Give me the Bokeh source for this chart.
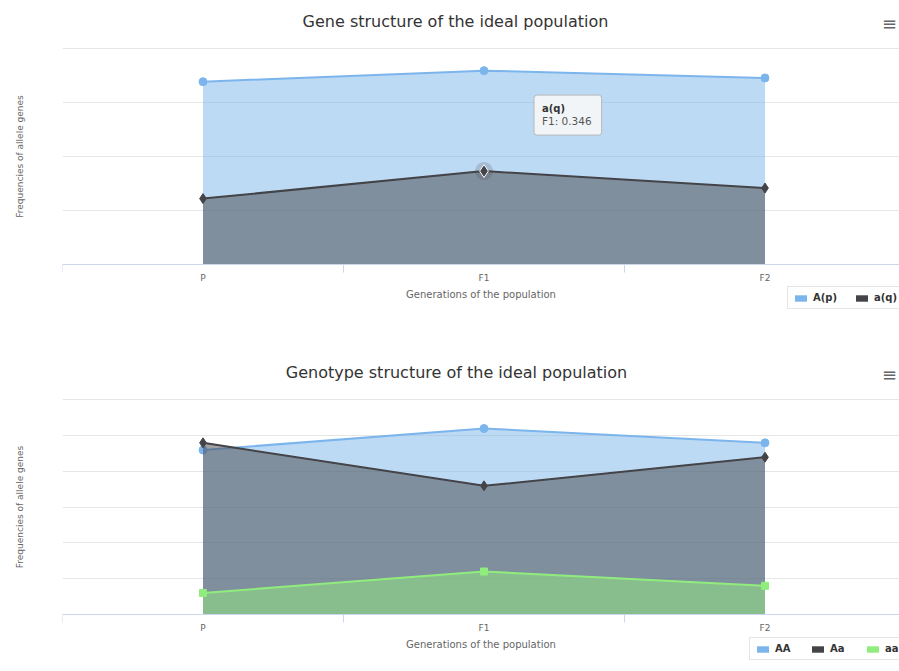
from bokeh.plotting import figure
from bokeh.layouts import column
from bokeh.models import (FixedTicker, CustomJSTickFormatter, Legend, LegendItem,
                          Label, ColumnDataSource, Range1d)
from bokeh.embed import file_html
from bokeh.resources import INLINE

# ---- data ----
generations = ["P", "F1", "F2"]
gen_pos = [0, 1, 2]
A_p = [0.677, 0.718, 0.691]
a_q = [0.244, 0.346, 0.283]
AA = [0.459, 0.519, 0.479]
Aa = [0.479, 0.359, 0.439]
aa = [0.060, 0.120, 0.080]

title1 = "Gene structure of the ideal population"
title2 = "Genotype structure of the ideal population"
x_title = "Generations of the population"
y_title = "Frequencies of allele genes"
gene_ticks = [0, 0.2, 0.4, 0.6, 0.8]
geno_ticks = [0, 0.1, 0.2, 0.3, 0.4, 0.5, 0.6]
legend1 = ["A(p)", "a(q)"]
legend2 = ["AA", "Aa", "aa"]

BLUE = "#7cb5ec"
DARK = "#434348"
GREEN = "#90ed7d"
FONT = "DejaVu Sans"

W = 899
LEFT = 62


def make_fig(height, frame_top, frame_bottom, yticks, top_px, axis_px,
             title, title_x, title_py):
    """All pixel rows are measured from the figure top. The frame runs from
    frame_top to frame_bottom; top_px / axis_px are the rows of the highest
    grid line and of the value 0."""
    span = yticks[-1] - yticks[0]
    ppu = (axis_px - top_px) / span
    y0 = yticks[0] - (frame_bottom - axis_px) / ppu
    y1 = yticks[-1] + (top_px - frame_top) / ppu
    p = figure(width=W, height=height, output_backend="svg", toolbar_location=None,
               x_range=Range1d(-0.5, -0.5 + (W - LEFT) / 281), y_range=Range1d(y0, y1),
               min_border_left=LEFT, min_border_right=0, min_border_top=frame_top,
               min_border_bottom=height - frame_bottom)
    p.title = None
    p.outline_line_color = None
    p.background_fill_color = "white"
    p.border_fill_color = "white"

    xa = p.xaxis[0]
    xa.fixed_location = yticks[0]
    xa.bounds = (-0.5, 2.5)
    xa.ticker = FixedTicker(ticks=gen_pos, minor_ticks=[-0.5, 0.5, 1.5, 2.5])
    xa.major_label_overrides = {i: g for i, g in zip(gen_pos, generations)}
    xa.axis_line_color = "#ccd6eb"
    xa.major_tick_line_color = None
    xa.minor_tick_line_color = "#ccd6eb"
    xa.minor_tick_out = 8
    xa.minor_tick_in = 0
    xa.major_tick_out = 0
    xa.major_tick_in = 0
    xa.major_label_standoff = 0
    xa.major_label_text_font = FONT
    xa.major_label_text_font_size = "9px"
    xa.major_label_text_color = "#666666"
    xa.axis_label = x_title
    xa.axis_label_text_font = FONT
    xa.axis_label_text_font_size = "10px"
    xa.axis_label_text_font_style = "normal"
    xa.axis_label_text_color = "#666666"
    xa.axis_label_standoff = 3

    ya = p.yaxis[0]
    ya.ticker = FixedTicker(ticks=yticks)
    ya.formatter = CustomJSTickFormatter(code="return ''")
    ya.axis_line_color = None
    ya.major_tick_line_color = None
    ya.minor_tick_line_color = None
    ya.major_label_standoff = 0
    ya.axis_label = y_title
    ya.axis_label_text_font = FONT
    ya.axis_label_text_font_size = "9px"
    ya.axis_label_text_font_style = "normal"
    ya.axis_label_text_color = "#666666"
    ya.axis_label_standoff = 32

    p.xgrid.visible = False
    p.ygrid.grid_line_color = "#e6e6e6"
    p.ygrid.grid_line_width = 1

    # chart title and context-menu icon (screen units, from frame bottom-left)
    ty = frame_bottom - title_py
    p.add_layout(Label(x=title_x, y=ty, x_units="screen", y_units="screen",
                       text=title, text_font=FONT, text_font_size="16px",
                       text_color="#333333", text_align="center",
                       text_baseline="middle"))
    p.add_layout(Label(x=W - LEFT - 10, y=ty - 2, x_units="screen", y_units="screen",
                       text="\u2261", text_font=FONT, text_font_size="18px",
                       text_color="#666666", text_align="center",
                       text_baseline="middle"))
    return p


def add_series(p, ys, color, marker, size):
    src = ColumnDataSource(dict(x=gen_pos, y=ys))
    p.varea(x="x", y1=0, y2="y", source=src, fill_color=color, fill_alpha=0.5)
    p.line(x="x", y="y", source=src, line_color=color, line_width=2)
    p.scatter(x="x", y="y", source=src, marker=marker, size=size,
              fill_color=color, line_color=color)
    # zero-height proxy area: gives the legend a solid swatch
    sw = p.varea(x="x", y1=0, y2=0, source=src, fill_color=color, fill_alpha=1.0)
    return sw


def make_legend(p, names, rends, loc, spacing):
    lg = Legend(items=[LegendItem(label=n, renderers=[r]) for n, r in zip(names, rends)],
                location=loc, orientation="horizontal")
    lg.label_text_font = FONT
    lg.label_text_font_size = "10px"
    lg.label_text_font_style = "bold"
    lg.label_text_color = "#333333"
    lg.glyph_width = 15
    lg.glyph_height = 8
    lg.label_standoff = 5
    lg.spacing = spacing
    lg.padding = 5
    lg.margin = 0
    lg.border_line_color = "#cccccc"
    lg.border_line_width = 1
    lg.background_fill_color = "white"
    lg.background_fill_alpha = 1
    p.add_layout(lg)


# ---- chart 1 ----
H1 = 336
FB1 = 312
p1 = make_fig(H1, 0, FB1, gene_ticks, 48, 264, title1, 455 - LEFT, 21)
s1 = add_series(p1, A_p, BLUE, "circle", 8)
s2 = add_series(p1, a_q, DARK, "diamond", 10)
hi = 1
p1.scatter(x=[gen_pos[hi]], y=[a_q[hi]], marker="circle", size=18,
           fill_color=DARK, fill_alpha=0.2, line_color=None)
p1.scatter(x=[gen_pos[hi]], y=[a_q[hi]], marker="diamond", size=13,
           fill_color=DARK, line_color="white", line_width=1)
tip = Label(x=gen_pos[hi], y=a_q[hi], x_offset=50, y_offset=56,
            text=f"{generations[hi]}: {a_q[hi]}", text_font=FONT,
            text_font_size="10.5px", text_color="#555555", text_baseline="middle",
            background_fill_color="#f7f7f7", background_fill_alpha=0.9,
            border_line_color="#b8b8b8", border_line_width=1,
            padding=dict(left=8, right=10, top=20, bottom=8), border_radius=3)
p1.add_layout(tip)
tip2 = Label(x=gen_pos[hi], y=a_q[hi], x_offset=58, y_offset=63,
             text="a(q)", text_font=FONT, text_font_size="10px",
             text_font_style="bold", text_color="#333333", text_baseline="middle")
p1.add_layout(tip2)
make_legend(p1, legend1, [s1, s2], (725, FB1 - 309), 17)

# ---- chart 2 ----
H2 = 334
FT2 = 7
FB2 = 334
p2 = make_fig(H2, FT2, FB2, geno_ticks, 399 - H1, 614 - H1, title2, 456 - LEFT, 372 - H1)
t1 = add_series(p2, AA, BLUE, "circle", 8)
t2 = add_series(p2, Aa, DARK, "diamond", 10)
t3 = add_series(p2, aa, GREEN, "square", 7)
make_legend(p2, legend2, [t1, t2, t3], (687, FB2 - (660 - H1)), 15)

layout = column(p1, p2, spacing=0)
open("out.html", "w").write(file_html(layout, INLINE))
